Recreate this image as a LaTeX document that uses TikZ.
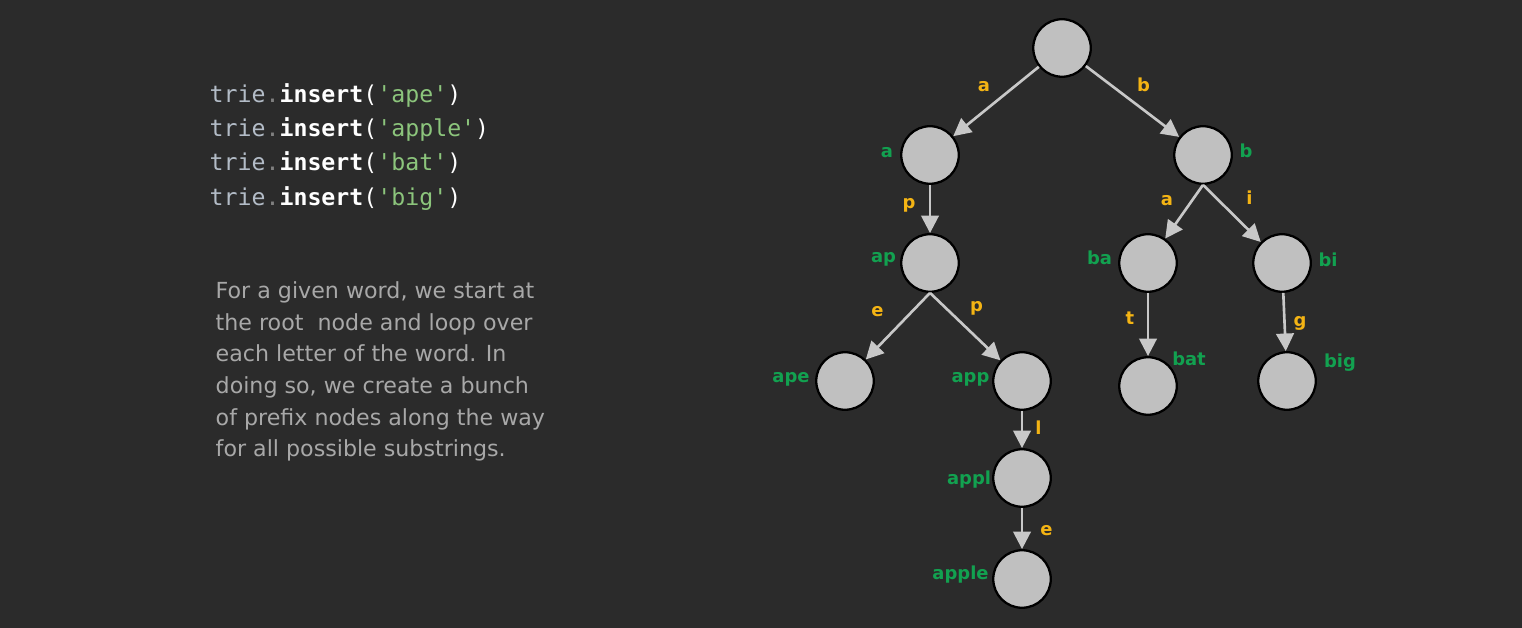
\documentclass[tikz,border=0pt]{standalone}
\usepackage{fontspec}
\usepackage{tikz}
\usetikzlibrary{arrows.meta}
\setmainfont{DejaVu Sans}
\newfontfamily\codefont{DejaVu Sans Mono}[Ligatures=TeXOff]
\definecolor{bg}{HTML}{2B2B2B}
\definecolor{disc}{HTML}{C0C0C0}
\definecolor{wire}{HTML}{C8C8C8}
\definecolor{keygreen}{HTML}{12A150}
\definecolor{chyellow}{HTML}{F4B414}
\definecolor{prose}{HTML}{A8A8A8}
\definecolor{ident}{HTML}{B3BCC7}
\definecolor{strgreen}{HTML}{8CC57C}
\newcommand{\ins}[1]{{\color{ident}trie}{\color{gray}.}{\color{white}\textbf{insert}(}{\color{strgreen}'#1'}{\color{white})}}

\begin{document}
\begin{tikzpicture}[x=0.01cm,y=-0.01cm]
  \tikzstyle{v} = [circle,draw=black,line width=0.65pt,fill=disc,
    minimum size=0.575cm,inner sep=0pt]
  \tikzstyle{Edge} = [draw=wire,line width=0.75pt,
    -{Triangle[length=5pt,width=5pt]}]
  \tikzstyle{key} = [text=keygreen,anchor=base,inner sep=0pt,
    font=\bfseries\fontsize{5.1}{6}\selectfont]
  \tikzstyle{ch} = [text=chyellow,anchor=base,inner sep=0pt,
    font=\bfseries\fontsize{5.1}{6}\selectfont]
  \fill[bg] (0,0) rectangle (1522,628);
  %%
  \begin{scope}
    \tikzstyle{every node}=[anchor=base west,inner sep=0pt,
      font=\codefont\fontsize{6.6}{8}\selectfont]
    \node (l1) at (209,103) {\ins{ape}};
    \node (l2) at (209,137) {\ins{apple}};
    \node (l3) at (209,171) {\ins{bat}};
    \node (l4) at (209,206) {\ins{big}};
  \end{scope}
  \node (txt) [anchor=north west,inner sep=0pt,align=left,text=prose,
    font=\fontsize{6.3}{9}\selectfont] at (215,281)
    {For a given word, we start at\\the root~ node and loop over\\
     each letter of the word. In\\doing so, we create a bunch\\
     of prefix nodes along the way\\for all possible substrings.};
  %%
  \node[v] (root) at (1062,48) {};
  \node[v] (a) at (930,155) {};   \node[v] (b) at (1203,155) {};
  \node[v] (ap) at (930,263) {};  \node[v] (ba) at (1148,263) {};
  \node[v] (bi) at (1282,263) {};
  \node[v] (ape) at (845,381) {}; \node[v] (app) at (1022,381) {};
  \node[v] (bat) at (1148,386) {}; \node[v] (big) at (1287,381) {};
  \node[v] (appl) at (1022,478) {};
  \node[v] (apple) at (1022,579) {};
  %%
  \path[Edge] (root) -- (a);  \path[Edge] (root) -- (b);
  \path[Edge] (a.south) -- (ap);
  \path[Edge] (b.south) -- (ba); \path[Edge] (b.south) -- (bi);
  \path[Edge] (ap.south) -- (ape); \path[Edge] (ap.south) -- (app);
  \path[Edge] (ba) -- (bat); \path[Edge] (bi) -- (big);
  \path[Edge] (app) -- (appl); \path[Edge] (appl) -- (apple);
  %%
  \node[ch] (c1) at (984,92) {a};   \node[ch] (c2) at (1143.5,92) {b};
  \node[ch] (c3) at (909,209) {p};  \node[ch] (c4) at (1167,206) {a};
  \node[ch] (c5) at (1249.5,205) {i};
  \node[ch] (c6) at (877.5,317) {e}; \node[ch] (c7) at (976.5,312) {p};
  \node[ch] (c8) at (1130,325) {t};  \node[ch] (c9) at (1300,327) {g};
  \node[ch] (c10) at (1038.5,435) {l};
  \node[ch] (c11) at (1046.5,535) {e};
  %%
  \node[key] (ka) at (887,158) {a};    \node[key] (kb) at (1246,158) {b};
  \node[key] (kap) at (883.5,263) {ap}; \node[key] (kba) at (1099.5,265) {ba};
  \node[key] (kbi) at (1328,267) {bi};
  \node[key] (kape) at (791,383) {ape}; \node[key] (kapp) at (970.5,383) {app};
  \node[key] (kbat) at (1189,366) {bat}; \node[key] (kbig) at (1340,368) {big};
  \node[key] (kappl) at (969,485) {appl};
  \node[key] (kapple) at (960.5,580) {apple};
\end{tikzpicture}
\end{document}
